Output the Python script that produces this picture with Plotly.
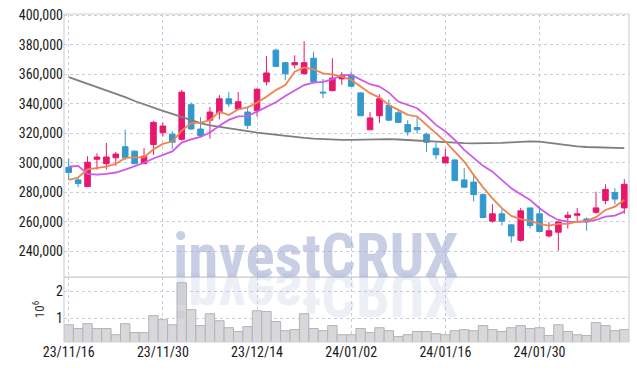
import plotly.graph_objects as go
from plotly.subplots import make_subplots

dates = ["23/11/16","23/11/17","23/11/20","23/11/21","23/11/22","23/11/23","23/11/24","23/11/27","23/11/28","23/11/29",
         "23/11/30","23/12/01","23/12/04","23/12/05","23/12/06","23/12/07","23/12/08","23/12/11","23/12/12","23/12/13",
         "23/12/14","23/12/15","23/12/18","23/12/19","23/12/20","23/12/21","23/12/22","23/12/26","23/12/27","23/12/28",
         "24/01/02","24/01/03","24/01/04","24/01/05","24/01/08","24/01/09","24/01/10","24/01/11","24/01/12","24/01/15",
         "24/01/16","24/01/17","24/01/18","24/01/19","24/01/22","24/01/23","24/01/24","24/01/25","24/01/26","24/01/29",
         "24/01/30","24/01/31","24/02/01","24/02/02","24/02/05","24/02/06","24/02/07","24/02/08","24/02/13","24/02/14"]

open_ = [297000,288500,284000,302500,299500,303500,311000,308000,299500,312500,
         320500,319500,316000,339500,323000,329000,334000,343500,336500,334500,
         335500,355000,376500,368000,366500,360500,371000,348000,349000,357000,
         359500,347500,322500,332000,339000,334000,326000,324000,319500,310000,
         300000,302000,288500,287000,278500,260500,265500,258000,247500,269500,
         265500,250500,253000,263000,264500,262000,266500,274500,280000,269500]
high_ = [303000,290500,304500,306500,313500,307500,322500,308500,310000,328500,
         327500,321500,349500,341000,331000,338000,346000,348000,348000,338000,
         350500,372500,377500,368500,373000,382500,375500,357000,371000,361500,
         362000,348000,334500,346500,343000,336500,329000,331000,320500,313500,
         309500,302500,296500,292000,279500,272000,268500,258500,269500,269500,
         270500,260000,260000,267000,269500,263000,280500,285500,283000,289000]
low_ = [288500,283500,283500,295500,295500,298000,302000,299500,299500,305500,
        318000,309500,315000,322500,318000,316500,329500,338000,336000,323000,
        331500,352500,365000,356000,364000,360000,354000,344000,348500,353000,
        351500,332000,322500,327000,328500,327000,318500,320000,307500,302500,
        300000,288000,283000,274000,263000,259500,257500,246000,246500,255500,
        253000,249500,240500,255500,260000,254000,265500,272000,272000,265500]
close_ = [293500,286000,300500,304000,304000,306000,303500,299500,304500,327500,
          325000,314000,348000,323000,318500,334500,343500,340000,341500,325500,
          350000,361000,365500,360500,368000,368000,355000,347500,357500,359500,
          352000,332000,330500,343500,329000,327500,321000,322500,314000,305500,
          304000,288000,283500,278500,263000,265500,260500,250500,267500,257500,
          253500,254000,260000,264500,265500,260000,269500,282000,275500,285500]

ma5 = [288.5,290.1,295.7,296.8,297.5,299.3,303.4,303.8,303.8,309.2,
       312.9,314.5,321.9,326.9,327.4,329.0,334.8,332.5,336.4,337.7,
       340.9,344.9,349.4,352.8,361.9,364.8,363.5,360.7,360.1,358.5,
       356.3,351.8,347.3,344.3,339.3,336.0,332.6,331.5,325.8,319.7,
       314.5,307.7,300.9,291.9,283.4,276.0,269.3,264.1,261.9,260.7,
       258.7,257.5,258.7,258.7,260.2,260.7,263.2,268.1,270.4,274.9]
ma10 = [297.4,298.0,292.5,292.1,292.6,293.5,295.4,297.5,300.1,303.0,
        305.5,307.8,313.8,316.0,317.6,320.6,325.2,329.2,331.6,331.8,
        334.8,338.2,341.1,345.4,349.4,352.8,354.4,354.9,356.7,359.6,
        359.7,356.7,353.4,351.8,347.7,341.6,339.3,337.1,331.9,325.8,
        321.3,315.6,308.8,303.2,298.0,294.1,288.4,282.8,278.7,274.9,
        269.3,264.7,261.3,260.2,260.0,260.2,261.3,263.6,264.3,267.0]
ma60 = [358.2,356.0,353.8,351.5,349.2,347.0,344.6,342.0,339.6,337.4,
        335.3,333.2,331.0,329.0,327.0,325.5,324.4,323.4,322.4,321.5,
        320.6,319.8,319.0,318.3,317.6,317.0,316.5,316.1,315.8,315.6,
        315.6,315.8,316.2,316.4,316.2,315.9,315.5,315.1,314.8,314.4,
        314.0,313.6,313.4,313.3,313.3,313.4,313.6,314.0,314.4,314.6,
        314.4,313.6,312.5,311.8,311.2,310.8,310.5,310.3,310.1,310.0]

volume_m = [0.75,0.61,0.79,0.61,0.61,0.38,0.79,0.46,0.46,1.09,
            0.94,0.75,2.31,1.31,0.72,1.16,0.90,0.64,0.50,0.68,
            1.27,1.24,0.87,0.53,0.57,1.16,0.61,0.53,0.72,0.38,
            0.38,0.61,0.46,0.64,0.53,0.31,0.38,0.50,0.50,0.42,
            0.38,0.53,0.57,0.53,0.72,0.57,0.50,0.64,0.72,0.61,
            0.64,0.35,0.75,0.50,0.38,0.35,0.83,0.72,0.53,0.57]

tick_dates = ["23/11/16","23/11/30","23/12/14","24/01/02","24/01/16","24/01/30"]
price_ticks = [240000,260000,280000,300000,320000,340000,360000,380000,400000]
price_tick_text = ["240,000","260,000","280,000","300,000","320,000","340,000","360,000","380,000","400,000"]

UP = "#e8176d"
DOWN = "#3399cc"
FONT = "Liberation Sans Narrow, Arial Narrow, Roboto Condensed, DejaVu Sans Condensed, Liberation Sans, sans-serif"
VOL_FRAC = 0.198

fig = make_subplots(rows=2, cols=1, shared_xaxes=True, vertical_spacing=0,
                    row_heights=[1 - VOL_FRAC, VOL_FRAC])

fig.add_trace(go.Candlestick(x=dates, open=open_, high=high_, low=low_, close=close_,
                             increasing=dict(line=dict(color=UP, width=1), fillcolor=UP),
                             decreasing=dict(line=dict(color=DOWN, width=1), fillcolor=DOWN),
                             showlegend=False, hoverinfo="skip"), row=1, col=1)
fig.add_trace(go.Scatter(x=dates, y=[v * 1000 for v in ma60], mode="lines",
                         line=dict(color="#7f7f7f", width=1.8), showlegend=False), row=1, col=1)
fig.add_trace(go.Scatter(x=dates, y=[v * 1000 for v in ma10], mode="lines",
                         line=dict(color="#cc5ae8", width=1.8), showlegend=False), row=1, col=1)
fig.add_trace(go.Scatter(x=dates, y=[v * 1000 for v in ma5], mode="lines",
                         line=dict(color="#ee8550", width=1.8), showlegend=False), row=1, col=1)
fig.add_trace(go.Bar(x=dates, y=volume_m, marker=dict(color="#d8d8da", line=dict(color="#b4b4b8", width=1)),
                     showlegend=False), row=2, col=1)

grid = dict(showgrid=True, gridcolor="#c9cbe0", griddash="dot", gridwidth=1,
            showline=False, zeroline=False, automargin=False)

fig.update_xaxes(type="category", range=[-0.5, 59.5], tickmode="array", tickvals=tick_dates,
                 ticktext=tick_dates, ticks="", rangeslider=dict(visible=False), **grid)
fig.update_yaxes(range=[222600, 401000], tickmode="array", tickvals=price_ticks,
                 ticktext=price_tick_text, ticks="", **grid, row=1, col=1)
fig.update_yaxes(range=[0.11, 2.52], tickmode="array", tickvals=[1, 2], ticktext=["1", "2"],
                 ticks="", title=dict(text="10<sup>6</sup>", font=dict(size=13, color="#333"), standoff=8),
                 **grid, row=2, col=1)

# frame and panel separator
fig.add_shape(type="rect", xref="paper", yref="paper", x0=0, x1=1, y0=0, y1=1,
              line=dict(color="#d2d2d6", width=1.2), layer="above")
fig.add_shape(type="line", xref="paper", yref="paper", x0=0, x1=1, y0=VOL_FRAC, y1=VOL_FRAC,
              line=dict(color="#c8c8cc", width=1.2), layer="above")

fig.add_annotation(text="<b>investCRUX</b>", xref="paper", yref="paper", x=0.446, y=0.262,
                   xanchor="center", yanchor="middle", showarrow=False,
                   font=dict(family=FONT, size=61, color="rgba(155,168,208,0.55)"))
fig.add_annotation(text="<b>investCRUX</b>", xref="paper", yref="paper", x=0.446, y=0.146,
                   xanchor="center", yanchor="middle", showarrow=False,
                   font=dict(family=FONT, size=61, color="rgba(170,182,215,0.22)"))

fig.update_layout(width=637, height=370, margin=dict(l=64, r=8, t=14, b=28),
                  paper_bgcolor="white", plot_bgcolor="white", bargap=0.0, boxgap=0.15,
                  font=dict(family=FONT, size=14, color="#1a1a1a"), hovermode=False)

post = """
(function(){
  document.body.style.margin='0';
  document.body.style.padding='0';
  document.documentElement.style.margin='0';
  function flip(){
    var gd=document.getElementById('{plot_id}');
    if(!gd) return;
    var t=gd.querySelector('g.annotation[data-index="1"] text.annotation-text');
    if(!t || (t.parentNode.getAttribute && t.parentNode.getAttribute('data-flip')==='1')) return;
    var bb=t.getBBox();
    var cy=bb.y+bb.height/2;
    var g=document.createElementNS('http://www.w3.org/2000/svg','g');
    g.setAttribute('data-flip','1');
    g.setAttribute('transform','translate(0,'+(2*cy)+') scale(1,-1)');
    t.parentNode.insertBefore(g,t); g.appendChild(t);
  }
  flip();
  setTimeout(flip,50);
  var gd=document.getElementById('{plot_id}');
  if(gd && gd.on){gd.on('plotly_afterplot', function(){setTimeout(flip,0);});}
})();
"""

fig.write_html("out.html", post_script=post, config={"displayModeBar": False, "staticPlot": True})
